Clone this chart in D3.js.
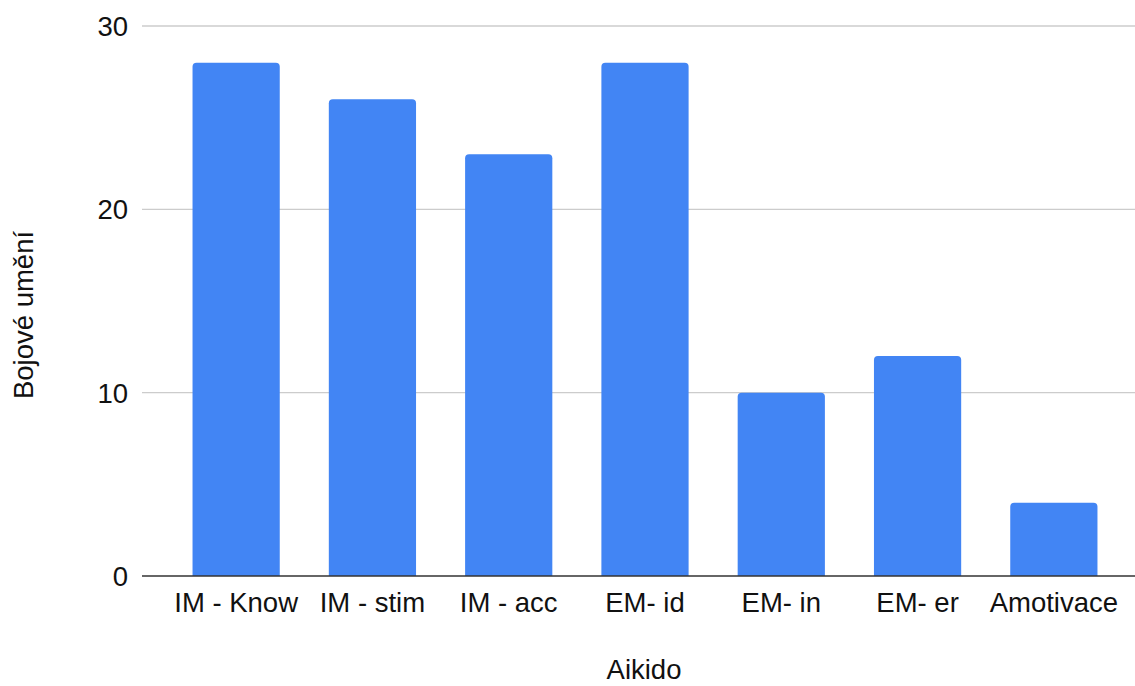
<!DOCTYPE html>
<html>
<head>
<meta charset="utf-8">
<script src="https://cdn.jsdelivr.net/npm/d3@7/dist/d3.min.js"></script>
<style>
  html, body { margin: 0; padding: 0; background: #fff; }
  svg { display: block; font-family: "Liberation Sans", Arial, sans-serif; }
</style>
</head>
<body>
<svg id="chart" width="1135" height="686"></svg>
<script>
// Motivation categories and their counts
const categories = ["IM - Know", "IM - stim", "IM - acc", "EM- id", "EM- in", "EM- er", "Amotivace"];
const values = [28, 26, 23, 28, 10, 12, 4];
const yTicks = [0, 10, 20, 30];
const xTitle = "Aikido";
const yTitle = "Bojové umění";

const svg = d3.select("#chart");
const FS = 27.5;
const plot = { left: 142, right: 1135, top: 26, bottom: 576 };

const x = d3.scaleBand()
  .domain(categories)
  .range([168, 1122])
  .paddingInner(0.36)
  .paddingOuter(0.18);

const y = d3.scaleLinear()
  .domain([0, 30])
  .range([plot.bottom, plot.top]);

// Horizontal gridlines
svg.append("g")
  .selectAll("line")
  .data(yTicks.filter(d => d !== 0))
  .join("line")
  .attr("x1", plot.left).attr("x2", plot.right)
  .attr("y1", d => y(d)).attr("y2", d => y(d))
  .attr("stroke", "#cccccc").attr("stroke-width", 1.3);

// Y tick labels
svg.append("g")
  .selectAll("text")
  .data(yTicks)
  .join("text")
  .attr("x", 128)
  .attr("y", d => y(d) + 10)
  .attr("text-anchor", "end")
  .attr("font-size", FS)
  .attr("fill", "#111")
  .text(d => d);

// Bars with rounded top corners
const r = 4;
function barPath(d, i) {
  const x0 = x(categories[i]), w = x.bandwidth();
  const yt = y(d), yb = y(0);
  return `M${x0},${yb}V${yt + r}Q${x0},${yt} ${x0 + r},${yt}H${x0 + w - r}Q${x0 + w},${yt} ${x0 + w},${yt + r}V${yb}Z`;
}
svg.append("g")
  .selectAll("path")
  .data(values)
  .join("path")
  .attr("d", (d, i) => barPath(d, i))
  .attr("fill", "#4285f4");

// Baseline
svg.append("line")
  .attr("x1", plot.left).attr("x2", plot.right)
  .attr("y1", y(0)).attr("y2", y(0))
  .attr("stroke", "#333").attr("stroke-width", 1.5);

// X category labels
svg.append("g")
  .selectAll("text")
  .data(categories)
  .join("text")
  .attr("x", d => x(d) + x.bandwidth() / 2)
  .attr("y", 612)
  .attr("text-anchor", "middle")
  .attr("font-size", FS)
  .attr("fill", "#111")
  .text(d => d);

// Axis titles
svg.append("text")
  .attr("x", 644).attr("y", 679)
  .attr("text-anchor", "middle")
  .attr("font-size", FS)
  .attr("fill", "#111")
  .text(xTitle);

svg.append("text")
  .attr("transform", "translate(33,315) rotate(-90)")
  .attr("text-anchor", "middle")
  .attr("font-size", FS)
  .attr("fill", "#111")
  .text(yTitle);
</script>
</body>
</html>
